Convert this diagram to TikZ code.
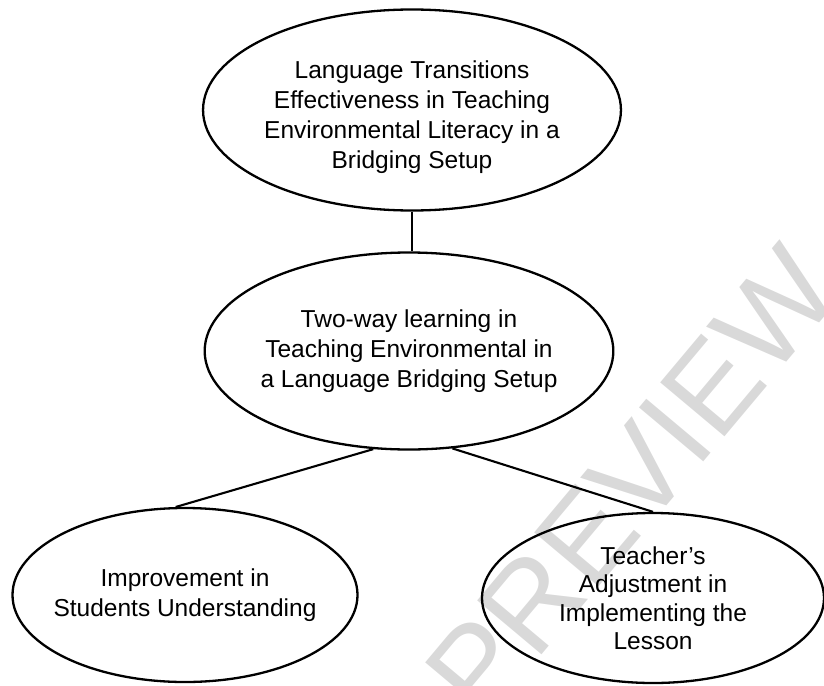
\documentclass[tikz,border=0pt]{standalone}
\usepackage{fontspec}
\setmainfont{Liberation Sans}
\usetikzlibrary{shapes.geometric}

\tikzset{
    bubble/.style={draw, ellipse, line width=2.3pt, align=center, inner sep=0pt,
        font=\fontsize{24.5}{30}\selectfont},
    link/.style={line width=2.1pt},
    stamp/.style={text=black!15, font=\fontsize{122}{122}\selectfont, rotate=50}
}

\begin{document}
\begin{tikzpicture}[x=1pt,y=-1pt]
    \useasboundingbox (0,0) rectangle (824,685);
    % faint stamp across the lower right
    \node[stamp] (stamp) at (632,482) {PREVIEW};

    % Ellipses:
    \node[bubble, minimum width=414pt, minimum height=201pt] (goal) at (412,110)
        {\rule{0pt}{33pt}Language Transitions\\Effectiveness in Teaching\\Environmental Literacy in a\\Bridging Setup};
    \node[bubble, minimum width=408pt, minimum height=197pt, inner xsep=-4pt] (twoway) at (409,351)
        {Two-way learning in\\Teaching Environmental in\\a Language Bridging Setup};
    \node[bubble, minimum width=345pt, minimum height=174pt, inner xsep=-10pt] (improve) at (185,595)
        {Improvement in\\Students Understanding};
    \node[bubble, minimum width=342pt, minimum height=170pt, font=\fontsize{24.5}{28.5}\selectfont] (adjust) at (653,598)
        {Teacher's\\Adjustment in\\Implementing the\\Lesson};

    % Links:
    \draw[link] (goal.south) -- (goal.south |- twoway.north);
    \draw[link] (twoway.250) -- (improve.96);
    \draw[link] (twoway.294) -- (adjust.north);
\end{tikzpicture}
\end{document}
